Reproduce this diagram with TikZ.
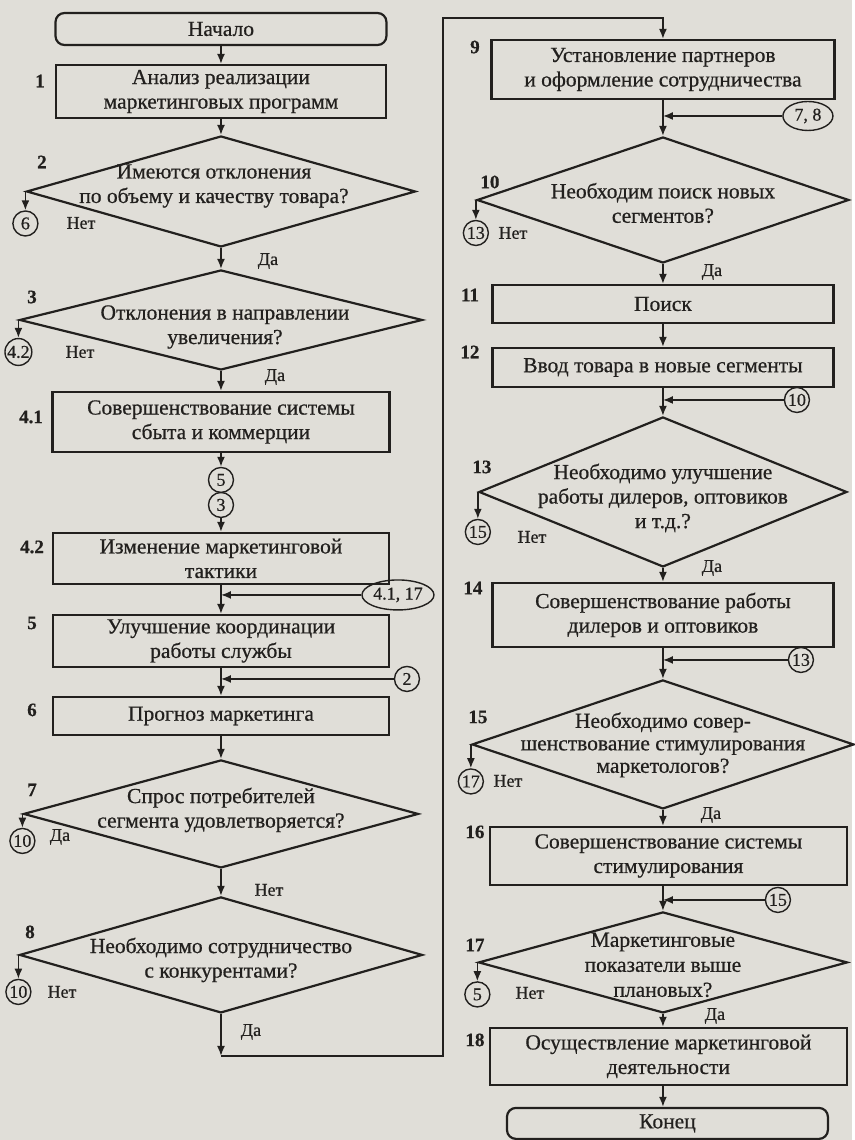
\documentclass[tikz,border=0pt]{standalone}
\usepackage{fontspec}
\setmainfont[FakeBold=0.6]{Liberation Serif}
\usetikzlibrary{shapes.geometric,arrows.meta}
\definecolor{paper}{RGB}{224,222,216}
\definecolor{ink}{RGB}{34,32,30}
\begin{document}
\begin{tikzpicture}[x=1pt,y=-1pt,
  every node/.style={text=ink},
  base/.style={font=\fontsize{21.5}{24.5}\selectfont, align=center},
  proc/.style={base, draw=ink, line width=2.2pt, inner sep=0pt},
  term/.style={proc, rounded corners=9pt},
  dia/.style={draw=ink, line width=2.2pt, diamond, inner sep=0pt},
  txt/.style={base, inner sep=0pt},
  num/.style={font=\fontsize{19}{19}\selectfont\bfseries, inner sep=0pt},
  ans/.style={font=\fontsize{18}{18}\selectfont, inner sep=0pt},
  conn/.style={circle, draw=ink, line width=1.4pt, inner sep=0.5pt, minimum size=25pt,
    font=\fontsize{18}{18}\selectfont},
  econn/.style={ellipse, draw=ink, line width=1.4pt, inner sep=0pt,
    font=\fontsize{18}{18}\selectfont},
  arr/.style={draw=ink, line width=1.6pt, -{Latex[length=10pt,width=8pt]}},
  wire/.style={draw=ink, line width=1.6pt}
]
% page
\path[fill=paper] (0,0) rectangle (852,1140);

% ---------- left column ----------
\node[term, minimum width=331pt, minimum height=32pt] (start) at (221,29) {Начало};
\node[proc, minimum width=330pt, minimum height=53pt] (b1) at (221,91.5)
  {Анализ реализации\\маркетинговых программ};
\node[dia, minimum width=389pt, minimum height=111pt] (d2) at (221,191.5) {};
\node[txt] (t2) at (214,186) {Имеются отклонения\\по объему и качеству товара?};
\node[dia, minimum width=403pt, minimum height=100pt] (d3) at (221,320) {};
\node[txt] (t3) at (225,327) {Отклонения в направлении\\увеличения?};
\node[proc, minimum width=337pt, minimum height=60pt] (b41) at (221,422)
  {Совершенствование системы\\сбыта и коммерции};
\node[conn] (c5a) at (221,480) {5};
\node[conn] (c3) at (221,505) {3};
\node[proc, minimum width=336pt, minimum height=51pt] (b42) at (221,558.5)
  {Изменение маркетинговой\\тактики};
\node[proc, minimum width=336pt, minimum height=52pt] (b5) at (221,641)
  {Улучшение координации\\работы службы};
\node[proc, minimum width=336pt, minimum height=38pt] (b6) at (221,716)
  {Прогноз маркетинга};
\node[dia, minimum width=395pt, minimum height=108pt] (d7) at (221,814) {};
\node[txt] (t7) at (221,810) {Спрос потребителей\\сегмента удовлетворяется?};
\node[dia, minimum width=403pt, minimum height=116pt] (d8) at (221,955) {};
\node[txt] (t8) at (221,960) {Необходимо сотрудничество\\с конкурентами?};

% ---------- right column ----------
\node[proc, minimum width=343pt, minimum height=59pt] (b9) at (663,69.5)
  {Установление партнеров\\и оформление сотрудничества};
\node[dia, minimum width=372pt, minimum height=126pt] (d10) at (663,200) {};
\node[txt] (t10) at (663,203) {Необходим поиск новых\\сегментов?};
\node[proc, minimum width=341pt, minimum height=38pt] (b11) at (663,304) {Поиск};
\node[proc, minimum width=341pt, minimum height=39pt] (b12) at (663,367.5)
  {Ввод товара в новые сегменты};
\node[dia, minimum width=368pt, minimum height=150pt] (d13) at (663,492) {};
\node[txt] (t13) at (663,498) {Необходимо улучшение\\работы дилеров, оптовиков\\и т.д.?};
\node[proc, minimum width=341pt, minimum height=64pt] (b14) at (663,615)
  {Совершенствование работы\\дилеров и оптовиков};
\node[dia, minimum width=382pt, minimum height=129pt] (d15) at (663,744.5) {};
\node[txt, font=\fontsize{21.5}{22.5}\selectfont] (t15) at (663,745)
  {Необходимо совер-\\шенствование стимулирования\\маркетологов?};
\node[proc, minimum width=357pt, minimum height=58pt] (b16) at (668.5,856)
  {Совершенствование системы\\стимулирования};
\node[dia, minimum width=369pt, minimum height=101pt] (d17) at (663,962.5) {};
\node[txt, font=\fontsize{21.5}{25}\selectfont] (t17) at (663,965)
  {Маркетинговые\\показатели выше\\плановых?};
\node[proc, minimum width=357pt, minimum height=57pt] (b18) at (668.5,1056.5)
  {Осуществление маркетинговой\\деятельности};
\node[term, minimum width=321pt, minimum height=31pt] (end) at (667.5,1123.5) {Конец};

% ---------- step numbers ----------
\node[num] (n1) at (40,81) {1};
\node[num] (n2) at (42,162) {2};
\node[num] (n3) at (32,297) {3};
\node[num] (n41) at (31,417) {4.1};
\node[num] (n42) at (32,547) {4.2};
\node[num] (n5) at (32,623) {5};
\node[num] (n6) at (32,710) {6};
\node[num] (n7) at (32,790) {7};
\node[num] (n8) at (30,932) {8};
\node[num] (n9) at (475,47) {9};
\node[num] (n10) at (490,182) {10};
\node[num] (n11) at (470,295) {11};
\node[num] (n12) at (470,352) {12};
\node[num] (n13) at (482,467) {13};
\node[num] (n14) at (473,588) {14};
\node[num] (n15) at (478,717) {15};
\node[num] (n16) at (475,832) {16};
\node[num] (n17) at (475,945) {17};
\node[num] (n18) at (475,1040) {18};

% ---------- off-page connectors ----------
\node[conn] (c6) at ([yshift=-32pt]d2.west) {6};
\node[conn] (c42) at ([yshift=-32pt]d3.west) {4.2};
\node[conn] (c10a) at ([yshift=-27pt]d7.west) {10};
\node[conn] (c10b) at ([yshift=-37pt]d8.west) {10};
\node[conn] (c13a) at ([yshift=-33pt]d10.west) {13};
\node[conn] (c15a) at ([yshift=-40pt]d13.west) {15};
\node[conn] (c17) at ([yshift=-37pt]d15.west) {17};
\node[conn] (c5b) at ([yshift=-32pt]d17.west) {5};

\node[econn, minimum width=72pt, minimum height=30pt] (e417) at (398,595) {4.1, 17};
\node[conn] (c2) at (407,679) {2};
\node[econn, minimum width=50pt, minimum height=29pt] (e78) at (808,116) {7, 8};
\node[conn] (c10c) at (797,400) {10};
\node[conn] (c13b) at (801,660) {13};
\node[conn] (c15b) at (778,900) {15};

% ---------- answers ----------
\node[ans] (a2n) at (81,223) {Нет};
\node[ans] (a2y) at (268,261) {Да};
\node[ans] (a3n) at (80,352) {Нет};
\node[ans] (a3y) at (275,377) {Да};
\node[ans] (a7y) at (60,837) {Да};
\node[ans] (a7n) at (269,890) {Нет};
\node[ans] (a8n) at (62,992) {Нет};
\node[ans] (a8y) at (251,1032) {Да};
\node[ans] (a10n) at (513,233) {Нет};
\node[ans] (a10y) at (712,272) {Да};
\node[ans] (a13n) at (532,537) {Нет};
\node[ans] (a13y) at (712,568) {Да};
\node[ans] (a15n) at (508,781) {Нет};
\node[ans] (a15y) at (711,815) {Да};
\node[ans] (a17n) at (530,993) {Нет};
\node[ans] (a17y) at (715,1016) {Да};

% ---------- flow, left column ----------
\draw[arr] (start.south) -- (b1.north);
\draw[arr] (b1.south) -- (d2.north);
\draw[arr] (d2.west) -- (c6.north);
\draw[arr] (d2.south) -- (d3.north);
\draw[arr] (d3.west) -- (c42.north);
\draw[arr] (d3.south) -- (b41.north);
\draw[arr] (b41.south) -- (c5a.north);
\draw[arr] (c3.south) -- (b42.north);
\draw[arr] (b42.south) -- (b5.north);
\draw[arr] (e417.west) -- (e417.west -| b42.south);
\draw[arr] (b5.south) -- (b6.north);
\draw[arr] (c2.west) -- (c2.west -| b5.south);
\draw[arr] (b6.south) -- (d7.north);
\draw[arr] (d7.west) -- (c10a.north);
\draw[arr] (d7.south) -- (d8.north);
\draw[arr] (d8.west) -- (c10b.north);

% transfer to the right column
\coordinate (lowL) at (221,1056);
\coordinate (topR) at (443,18);
\draw[arr] (d8.south) -- (lowL);
\draw[arr] (lowL) -| (topR) -| (b9.north);

% ---------- flow, right column ----------
\draw[arr] (b9.south) -- (d10.north);
\draw[arr] (e78.west) -- (e78.west -| b9.south);
\draw[arr] (d10.west) -- (c13a.north);
\draw[arr] (d10.south) -- (b11.north);
\draw[arr] (b11.south) -- (b12.north);
\draw[arr] (b12.south) -- (d13.north);
\draw[arr] (c10c.west) -- (c10c.west -| b12.south);
\draw[arr] (d13.west) -- (c15a.north);
\draw[arr] (d13.south) -- (b14.north);
\draw[arr] (b14.south) -- (d15.north);
\draw[arr] (c13b.west) -- (c13b.west -| b14.south);
\draw[arr] (d15.west) -- (c17.north);
\draw[arr] (d15.south) -- (d15.south |- b16.north);
\draw[arr] (b16.south -| d17.north) -- (d17.north);
\draw[arr] (c15b.west) -- (c15b.west -| d17.north);
\draw[arr] (d17.west) -- (c5b.north);
\draw[arr] (d17.south) -- (d17.south |- b18.north);
\draw[arr] (b18.south -| d17.south) -- (end.north -| d17.south);
\end{tikzpicture}
\end{document}
